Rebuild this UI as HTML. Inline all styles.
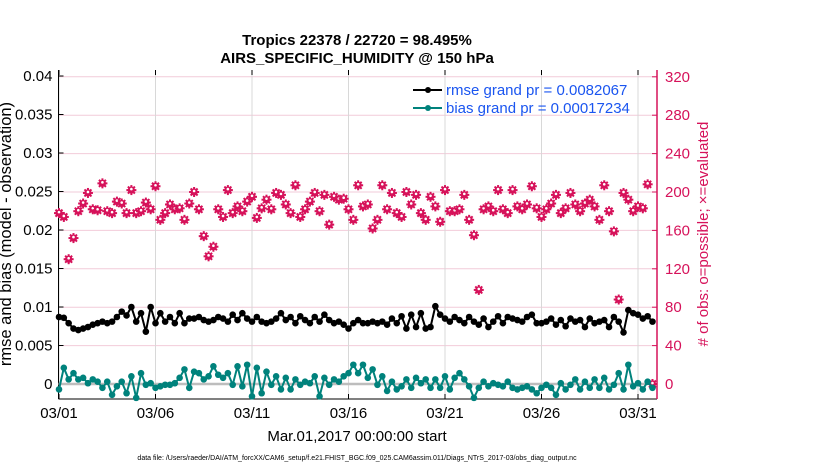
<!DOCTYPE html>
<html><head><meta charset="utf-8"><style>
html,body{margin:0;padding:0;background:#fff;overflow:hidden;}
svg{display:block;font-family:"Liberation Sans",sans-serif;}
</style></head><body>
<svg id="chart" width="830" height="470" viewBox="0 0 830 470" xmlns="http://www.w3.org/2000/svg">
<text x="357" y="45" font-size="15" font-weight="bold" text-anchor="middle">Tropics 22378 / 22720 = 98.495%</text>
<text x="357" y="63" font-size="15" font-weight="bold" text-anchor="middle">AIRS_SPECIFIC_HUMIDITY @ 150 hPa</text>
<g id="grid"></g>
<g id="axes"></g>
<g id="marks"></g>
<g>
<line x1="413" y1="90" x2="442" y2="90" stroke="#000" stroke-width="2"/><circle cx="428" cy="90" r="3" fill="#000"/>
<text x="446" y="95" font-size="15" fill="#1a55f0">rmse grand pr = 0.0082067</text>
<line x1="413" y1="108" x2="442" y2="108" stroke="#00827c" stroke-width="2"/><circle cx="428" cy="108" r="3" fill="#00827c"/>
<text x="446" y="113" font-size="15" fill="#1a55f0">bias grand pr = 0.00017234</text>
</g>
<text transform="translate(11,234) rotate(-90)" font-size="16.5" text-anchor="middle">rmse and bias (model - observation)</text>
<text transform="translate(708,234) rotate(-90)" font-size="15" fill="#d6125a" text-anchor="middle"># of obs: o=possible; ×=evaluated</text>
<text x="357" y="441" font-size="15" text-anchor="middle">Mar.01,2017 00:00:00 start</text>
<text x="357" y="460" font-size="7" text-anchor="middle">data file: /Users/raeder/DAI/ATM_forcXX/CAM6_setup/f.e21.FHIST_BGC.f09_025.CAM6assim.011/Diags_NTrS_2017-03/obs_diag_output.nc</text>
</svg>
<script>
const xTickLabels=["03/01","03/06","03/11","03/16","03/21","03/26","03/31"];
const xTickDays=[0,5,10,15,20,25,30];
const yLeftTicks=[0,0.005,0.01,0.015,0.02,0.025,0.03,0.035,0.04];
const yLeftLabels=["0","0.005","0.01","0.015","0.02","0.025","0.03","0.035","0.04"];
const yRightTicks=[0,40,80,120,160,200,240,280,320];
const rmse=[0.0087,0.0086,0.0079,0.0072,0.0070,0.0072,0.0074,0.0077,0.0079,0.0081,0.0079,0.0081,0.0087,0.0094,0.0089,0.0100,0.0081,0.0092,0.0068,0.0100,0.0079,0.0092,0.0081,0.0087,0.0079,0.0092,0.0079,0.0085,0.0085,0.0087,0.0083,0.0081,
0.0083,0.0087,0.0085,0.0081,0.0090,0.0083,0.0092,0.0085,0.0081,0.0087,0.0081,0.0079,0.0081,0.0085,0.0092,0.0083,0.0087,0.0079,0.0088,0.0083,0.0079,0.0087,0.0081,0.0090,0.0083,0.0079,0.0081,0.0077,0.0072,0.0079,0.0083,
0.0079,0.0079,0.0081,0.0079,0.0081,0.0077,0.0085,0.0079,0.0088,0.0072,0.0090,0.0074,0.0092,0.0072,0.0074,0.0101,0.0090,0.0085,0.0081,0.0087,0.0083,0.0079,0.0087,0.0081,0.0077,0.0085,0.0074,0.0081,0.0088,0.0079,0.0087,
0.0085,0.0083,0.0081,0.0087,0.0090,0.0079,0.0079,0.0081,0.0085,0.0077,0.0083,0.0075,0.0085,0.0081,0.0083,0.0074,0.0085,0.0079,0.0081,0.0083,0.0074,0.0087,0.0081,0.0067,0.0096,0.0092,0.0090,0.0085,0.0088,0.0081];
const bias=[-0.0007,0.0021,0.0006,0.0014,0.0006,0.0008,0.0001,0.0006,0.0003,-0.0005,0.0003,-0.0014,-0.0003,0.0003,-0.0012,0.0010,-0.0018,0.0014,-0.0001,0.0001,-0.0005,-0.0003,-0.0001,-0.0001,0.0001,0.0008,0.0019,-0.0005,0.0016,0.0014,0.0006,0.0010,
0.0023,0.0012,0.0008,0.0014,-0.0001,0.0023,-0.0003,0.0025,-0.0016,0.0021,-0.0012,0.0016,-0.0001,0.0010,-0.0007,0.0008,-0.0007,0.0006,-0.0001,0.0003,0.0001,0.0010,-0.0016,0.0008,-0.0001,0.0006,0.0003,0.0010,0.0014,0.0025,0.0014,
0.0025,0.0008,0.0019,-0.0001,0.0010,-0.0009,0.0003,-0.0007,-0.0003,0.0006,-0.0005,0.0008,0.0001,0.0006,-0.0005,0.0006,-0.0005,0.0010,-0.0007,0.0008,0.0014,0.0006,-0.0003,-0.0018,-0.0005,0.0003,-0.0003,0.0001,-0.0001,-0.0003,0.0003,
-0.0005,-0.0007,-0.0005,-0.0003,-0.0007,-0.0012,-0.0005,-0.0001,-0.0005,-0.0014,0.0001,-0.0007,-0.0001,0.0006,-0.0007,0.0003,-0.0005,0.0006,-0.0005,0.0008,-0.0007,-0.0001,0.0014,-0.0007,0.0025,-0.0003,0.0001,-0.0007,0.0003,-0.0005];
const obsCount=[178,174,130,152,180,188,199,182,181,209,180,178,190,188,178,202,178,180,189,182,206,171,178,187,182,183,171,188,200,182,154,133,143,182,174,202,178,185,180,190,195,173,183,192,182,199,197,187,178,207,174,182,190,199,180,197,166,195,192,193,
182,171,207,185,187,162,171,207,182,199,178,174,200,187,197,178,171,195,185,169,202,180,180,182,197,171,155,98,182,185,180,202,182,178,202,185,182,187,206,183,174,182,188,197,178,183,199,187,180,188,192,185,171,207,180,159,88,199,192,180,185,183,208,0];
const NS="http://www.w3.org/2000/svg";
const L=58.5,R=657,T=70,B=399;
const x0=59,pxPerDay=19.3;
function xDay(d){return x0+d*pxPerDay;}
function yL(v){return 384-v*7700;}
function yR(c){return 384-c*0.96;}
function mk(tag,attrs,parent){const e=document.createElementNS(NS,tag);for(const k in attrs)e.setAttribute(k,attrs[k]);parent.appendChild(e);return e;}
const grid=document.getElementById('grid'),axes=document.getElementById('axes'),marks=document.getElementById('marks');
yRightTicks.forEach((c,i)=>{if(c===0)return;const ln=mk('line',{x1:L,x2:R,y1:yR(c),y2:yR(c),stroke:'#f2cbd9','stroke-width':1},grid);

});
xTickDays.forEach((d,i)=>{const ln=mk('line',{x1:xDay(d),x2:xDay(d),y1:T,y2:B,stroke:'#d8d8d8','stroke-width':1},grid);


const t=mk('text',{x:xDay(d),y:418,'font-size':15,'text-anchor':'middle'},axes);t.textContent=xTickLabels[i];


mk('line',{x1:xDay(d),x2:xDay(d),y1:B,y2:B-5,stroke:'#000'},axes);
mk('line',{x1:xDay(d),x2:xDay(d),y1:T,y2:T+5,stroke:'#000'},axes);});
mk('line',{x1:L,x2:L,y1:T,y2:B,stroke:'#000','stroke-width':1},axes);
mk('line',{x1:L,x2:R,y1:B,y2:B,stroke:'#000','stroke-width':1},axes);
mk('line',{x1:R,x2:R,y1:T,y2:B,stroke:'#d6125a','stroke-width':1.5},axes);
yLeftTicks.forEach((v,i)=>{mk('line',{x1:L,x2:L+5,y1:yL(v),y2:yL(v),stroke:'#000'},axes);
const t=mk('text',{x:L-6,y:yL(v)+5,'font-size':15,'text-anchor':'end'},axes);t.textContent=yLeftLabels[i];

});
yRightTicks.forEach(c=>{mk('line',{x1:R,x2:R-5,y1:yR(c),y2:yR(c),stroke:'#d6125a'},axes);
const t=mk('text',{x:R+8,y:yR(c)+5,'font-size':15,fill:'#d6125a'},axes);t.textContent=String(c);

});
const z=mk('line',{x1:L,x2:R,y1:yL(0),y2:yL(0),stroke:'#bdbdbd','stroke-width':2.5},marks);


obsCount.forEach((c,i)=>{const cx=xDay(i*0.25),cy=yR(c);const g=mk('g',{},marks);


[[0,-5,0,5],[-5,0,5,0],[-3.5,-3.5,3.5,3.5],[-3.5,3.5,3.5,-3.5]].forEach(s=>mk('line',{x1:cx+s[0],y1:cy+s[1],x2:cx+s[2],y2:cy+s[3],stroke:'#d6125a','stroke-width':2},g));
mk('circle',{cx:cx,cy:cy,r:3.6,fill:'#d6125a'},g);
mk('circle',{cx:cx,cy:cy-1,r:1.3,fill:'#fff'},g);});
function series(arr,color,name){const pts=arr.map((v,i)=>xDay(i*0.25)+','+yL(v)).join(' ');
const pl=mk('polyline',{points:pts,fill:'none',stroke:color,'stroke-width':2},marks);


arr.forEach((v,i)=>{const c=mk('circle',{cx:xDay(i*0.25),cy:yL(v),r:3.3,fill:color},marks);

});}
series(bias,'#00827c','bias');
series(rmse,'#000','rmse');
</script>
</body></html>
